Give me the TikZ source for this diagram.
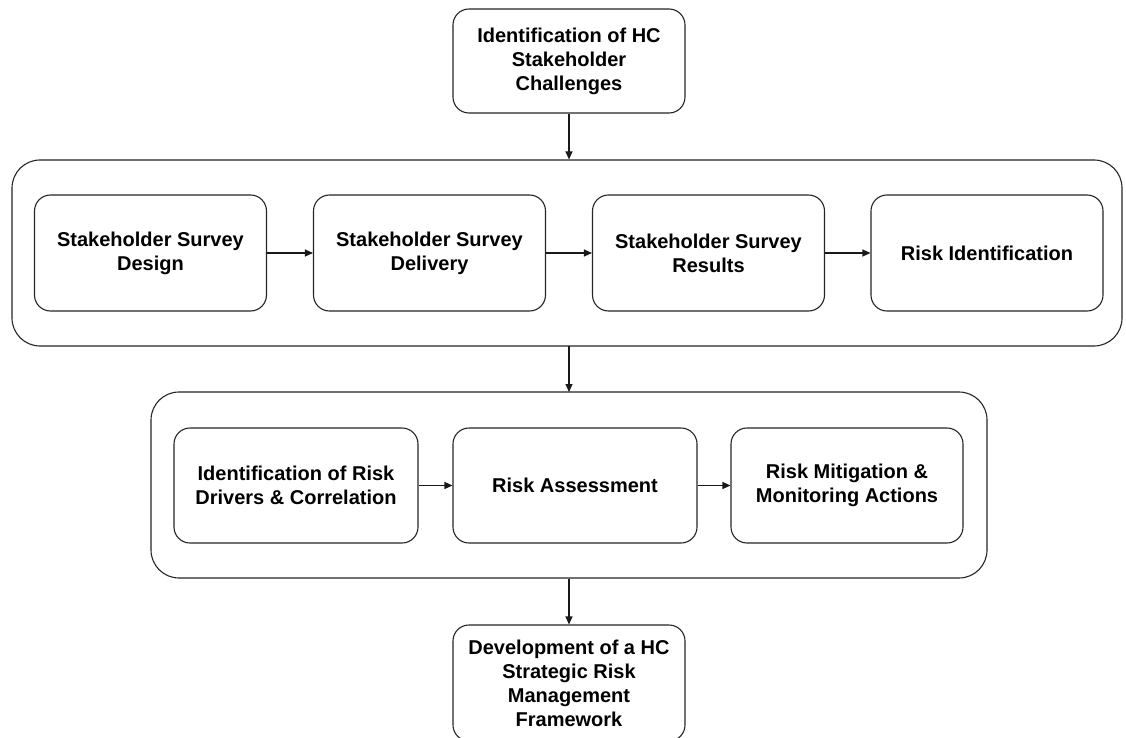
\documentclass[tikz,border=0pt]{standalone}
\usepackage{fontspec}
\setmainfont{Liberation Sans}
\usetikzlibrary{arrows.meta}
\begin{document}
\begin{tikzpicture}[x=1pt,y=-1pt,
  txt/.style={font=\bfseries\fontsize{20}{24}\selectfont, align=center, text=black},
  box/.style={draw=black!85, line width=1.1pt, rounded corners=16pt, inner sep=0pt, txt},
  cont/.style={draw=black!85, line width=1.1pt, rounded corners=28pt, inner sep=0pt},
  arr/.style={draw=black!90, line width=1.1pt, -{Triangle[length=8pt,width=7pt]}}
]
\useasboundingbox (0,0) rectangle (1126,738);
\fill[white] (0,0) rectangle (1126,738);
\begin{scope}
\clip (0,0) rectangle (1126,738);
\node[box, minimum width=232pt, minimum height=104pt] (top) at (569,61) {Identification of HC\\Stakeholder\\Challenges};

\node[cont, minimum width=1110pt, minimum height=186pt] (c1) at (567,253) {};
\node[box, minimum width=232pt, minimum height=116pt] (a1) at (150.5,253) {Stakeholder Survey\\Design};
\node[box, minimum width=232pt, minimum height=116pt] (a2) at (429.5,253) {Stakeholder Survey\\Delivery};
\node[box, minimum width=232pt, minimum height=116pt] (a3) at (708.5,253) {Stakeholder Survey\\Results};
\node[box, minimum width=232pt, minimum height=116pt] (a4) at (987,253) {Risk Identification};

\node[cont, minimum width=836pt, minimum height=186pt] (c2) at (569,485) {};
\node[box, minimum width=244pt, minimum height=115pt] (b1) at (296,485.5) {Identification of Risk\\Drivers \& Correlation};
\node[box, minimum width=244pt, minimum height=115pt] (b2) at (575,485.5) {Risk Assessment};
\node[box, minimum width=232pt, minimum height=115pt] (b3) at (847,485.5) {Risk Mitigation \&\\Monitoring Actions};

\node[box, minimum width=232pt, minimum height=116pt] (bot) at (569,683) {Development of a HC\\Strategic Risk\\Management\\Framework};

\draw[arr] (top.south) -- (top.south |- c1.north);
\draw[arr] (a1) -- (a2);
\draw[arr] (a2) -- (a3);
\draw[arr] (a3) -- (a4);
\draw[arr] (569,346) -- (569,392);
\draw[arr] (b1) -- (b2);
\draw[arr] (b2) -- (b3);
\draw[arr] (c2.south -| bot.north) -- (bot.north);
\end{scope}
\end{tikzpicture}
\end{document}
